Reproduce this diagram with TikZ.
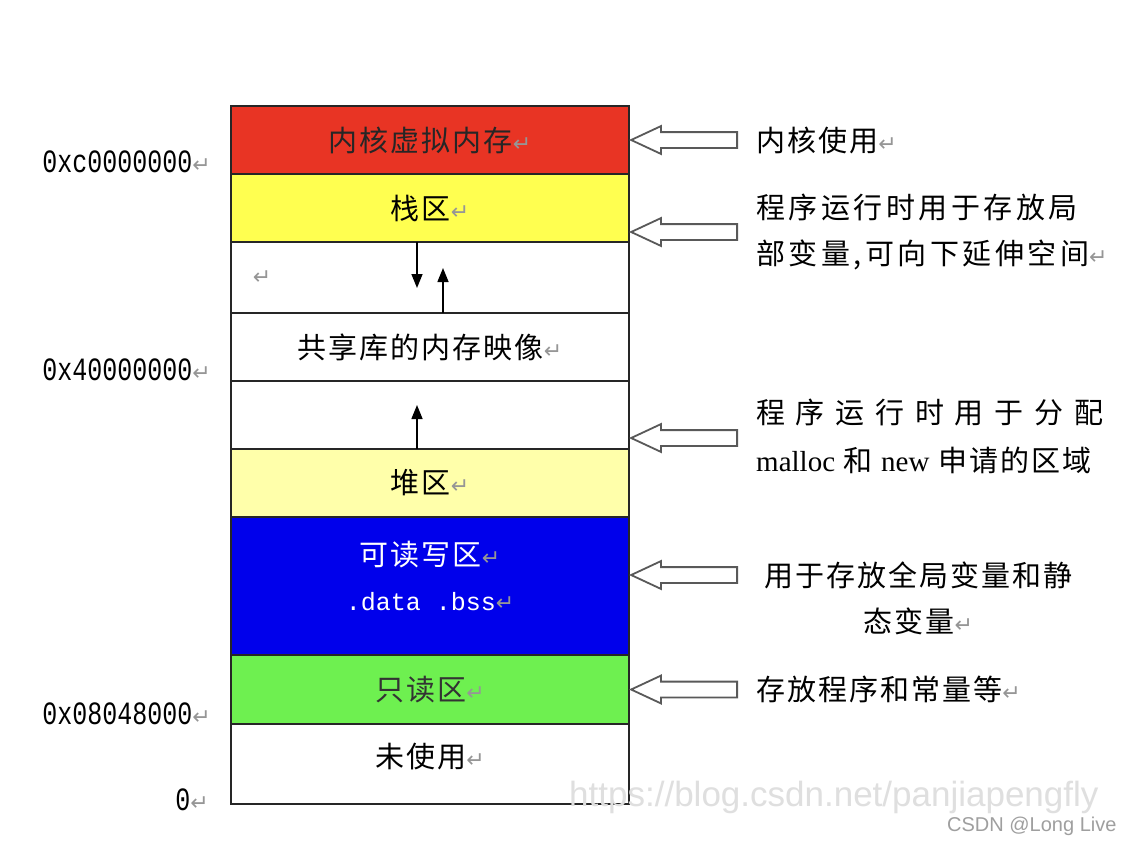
\documentclass[tikz,border=0pt]{standalone}
\usepackage{fontspec}
\usepackage{graphicx}
\setmainfont{Liberation Serif}
\newfontfamily\cjk[LetterSpace=7]{Noto Sans CJK SC}
\newfontfamily\cjkwide[LetterSpace=12]{Noto Sans CJK SC}
\newfontfamily\symb{DejaVu Sans}
\newfontfamily\hexfont{Liberation Mono}
\newfontfamily\wmfont{Liberation Sans}
\usetikzlibrary{positioning, shapes.arrows, arrows.meta}

\definecolor{kred}{RGB}{232,52,36}
\definecolor{syellow}{RGB}{255,255,80}
\definecolor{hyellow}{RGB}{255,255,170}
\definecolor{rwblue}{RGB}{0,0,235}
\definecolor{rogreen}{RGB}{110,240,80}
\definecolor{pmgray}{RGB}{150,150,150}

% paragraph mark and address labels
\newcommand\pmark{{\symb\fontsize{22}{22}\selectfont\color{pmgray}↵}}
\newcommand\hexaddr[1]{\scalebox{1}[1.3]{\hexfont\fontsize{25}{25}\selectfont #1}\pmark}

\tikzset{
  band/.style={draw=black!85, line width=1.2pt, minimum width=398pt, minimum height=#1,
    inner sep=0pt, outer sep=0pt, font=\cjk\fontsize{29}{29}\selectfont},
  band/.default=68pt,
  addr/.style={anchor=east, inner sep=0pt},
  note/.style={anchor=west, align=left, inner sep=0pt, font=\cjk\fontsize{29}{46}\selectfont},
  hollow/.style={single arrow, draw=black!65, line width=1.8pt, fill=white,
    shape border rotate=180, minimum height=106pt, inner xsep=0pt, inner ysep=7pt,
    single arrow head extend=6pt, single arrow tip angle=50, anchor=tip},
  growarrow/.style={-{Triangle[length=14pt,width=11pt]}, line width=1.5pt},
}

\begin{document}
\begin{tikzpicture}[x=1pt, y=-1pt]
\useasboundingbox[fill=white] (0,0) rectangle (1124,844);

% memory bands, top to bottom
\node[band, fill=kred, text=black!85] (kern) at (430,140) {内核虚拟内存\pmark};
\node[band, fill=syellow, below=0pt of kern] (stack) {栈区\pmark};
\node[band=71pt, below=0pt of stack] (gapA) {};
\node[band, below=0pt of gapA] (shlib) {共享库的内存映像\pmark};
\node[band, below=0pt of shlib] (gapB) {};
\node[band, fill=hyellow, below=0pt of gapB] (heap) {堆区\pmark};
\node[band=138pt, fill=rwblue, below=0pt of heap] (rw) {};
\node[band=69pt, fill=rogreen, text=black!80, below=0pt of rw] (ro) {只读区\pmark};
\node[band=80pt, below=0pt of ro] (unused) {};

\node[font=\cjk\fontsize{29}{29}\selectfont, text=white] (rwname) at ([yshift=-38pt]rw.north) {可读写区\pmark};
\node[font=\hexfont\fontsize{25}{25}\selectfont, text=white] (rwsec) at ([yshift=-85pt]rw.north) {.data .bss\pmark};
\node[font=\cjk\fontsize{29}{29}\selectfont] (unusedtxt) at ([yshift=7pt]unused.center) {未使用\pmark};
\node (gapmark) at ([xshift=-168pt]gapA.center) {\pmark};

% growth arrows
\coordinate (stkA) at ([xshift=-13pt]gapA.north);
\coordinate (stkB) at ([xshift=-13pt,yshift=-46pt]gapA.north);
\coordinate (libA) at ([xshift=13pt]gapA.south);
\coordinate (libB) at ([xshift=13pt,yshift=45pt]gapA.south);
\coordinate (hpA) at ([xshift=-13pt]gapB.south);
\coordinate (hpB) at ([xshift=-13pt,yshift=44pt]gapB.south);
\draw[growarrow] (stkA) -- (stkB);
\draw[growarrow] (libA) -- (libB);
\draw[growarrow] (hpA) -- (hpB);

% addresses
\node[addr] (aK) at (211,162) {\hexaddr{0xc0000000}};
\node[addr] (aS) at (211,370) {\hexaddr{0x40000000}};
\node[addr] (aT) at (211,714) {\hexaddr{0x08048000}};
\node[addr] (aZ) at (209,800) {\hexaddr{0}};

% hollow pointers and notes
\node[hollow] (hK) at (kern.east) {};
\node[hollow] (hS) at ([yshift=10pt]stack.south east) {};
\node[hollow] (hH) at ([yshift=11pt]gapB.south east) {};
\node[hollow] (hRW) at ([yshift=11pt]rw.east) {};
\node[hollow] (hRO) at (ro.east) {};

\node[note, right=18pt of hK.tail] (nK) {内核使用\pmark};
\node[note, right=18pt of hS.tail, font=\cjkwide\fontsize{29}{46}\selectfont] (nS) {程序运行时用于存放局\\部变量,可向下延伸空间\pmark};
\node[note, right=18pt of hH.tail, yshift=2pt, font=\cjk\fontsize{29}{48}\selectfont] (nH)
  {\makebox[347pt][s]{程\hfill 序\hfill 运\hfill 行\hfill 时\hfill 用\hfill 于\hfill 分\hfill 配}\\
   {\rmfamily malloc} 和 {\rmfamily new} 申请的区域};
\node[note, align=center, xshift=26pt, yshift=-23pt] (nRW) at (hRW.tail) {用于存放全局变量和静\\态变量\pmark};
\node[note, right=18pt of hRO.tail] (nRO) {存放程序和常量等\pmark};

% watermarks
\node[font=\wmfont\fontsize{35}{35}\selectfont, text=gray!25, anchor=east] (wm) at (1102,797) {https://blog.csdn.net/panjiapengfly};
\node[font=\wmfont\fontsize{20}{20}\selectfont, text=gray!75, anchor=east] (csdn) at (1120,826) {CSDN @Long Live};
\end{tikzpicture}
\end{document}
